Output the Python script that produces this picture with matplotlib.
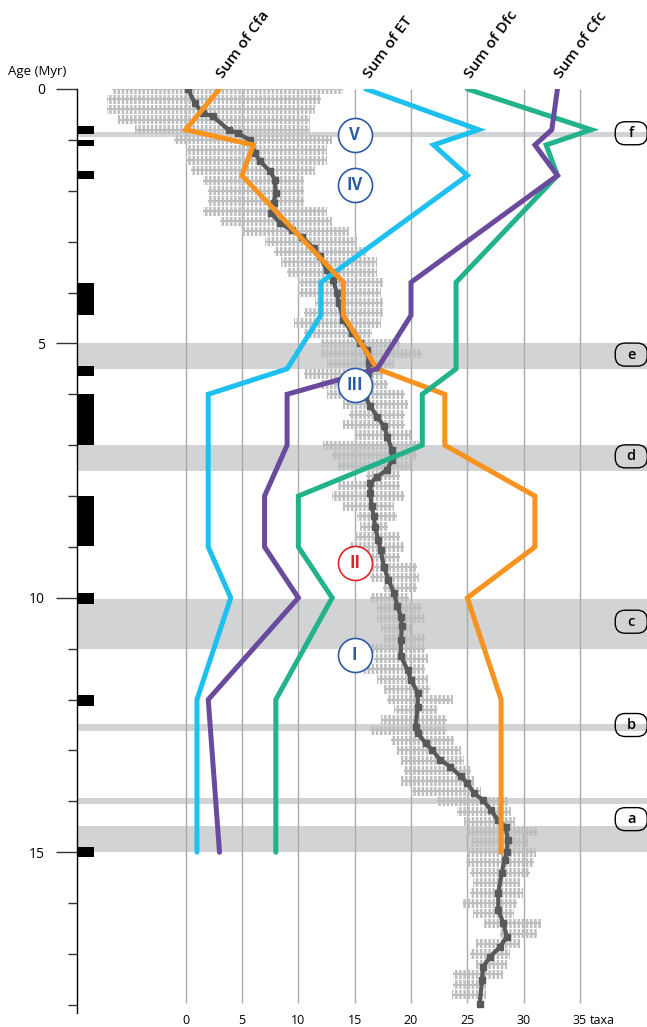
import matplotlib
matplotlib.use('Agg')
import matplotlib.pyplot as plt
from matplotlib.patches import FancyBboxPatch
from matplotlib.transforms import IdentityTransform

plt.rcParams['font.family'] = ['Open Sans', 'DejaVu Sans']
plt.rcParams['hatch.linewidth'] = 1.8

# ---------------- data ----------------
node_ages = [0, 0.8, 1.1, 1.7, 3.8, 4.45, 5.5, 6, 7, 8, 9, 10, 12, 15]
sum_cfa = [3, 0, 6, 5, 14, 14, 17, 23, 23, 31, 31, 25, 28, 28]
sum_et = [16, 26, 22, 25, 12, 12, 9, 2, 2, 2, 2, 4, 1, 1]
sum_dfc = [25, 36, 32, 33, 24, 24, 24, 21, 21, 10, 10, 13, 8, 8]
sum_cfc = [33, 32.5, 31, 33, 20, 20, 17, 9, 9, 7, 7, 10, 2, 3]
series_names = ['Sum of ET', 'Sum of Cfa', 'Sum of Dfc', 'Sum of Cfc']
series_colors = ['#1DC0EE', '#F7931E', '#22B28C', '#6A4A9C']

mean_ages = [0, 0.28, 0.47, 0.54, 0.8, 0.87, 1.0, 1.26, 1.42, 1.62, 1.78, 2.05, 2.24,
             2.44, 2.64, 2.77, 2.9, 3.13, 3.29, 3.55, 3.75, 4.0, 4.21, 4.54, 4.8,
             4.99, 5.12, 5.39, 5.58, 5.8, 6.04, 6.24, 6.44, 6.63, 6.83, 7.09, 7.29,
             7.48, 7.62, 7.75, 7.94, 8.2, 8.4, 8.6, 8.86, 9.06, 9.39, 9.65, 9.91,
             10.17, 10.37, 10.56, 10.83, 11.15, 11.42, 11.61, 11.87, 12.14, 12.53,
             12.66, 12.86, 12.99, 13.19, 13.32, 13.51, 13.64, 13.84, 13.97, 14.17,
             14.37, 14.5, 14.76, 15.0, 15.15, 15.41, 15.8, 16.13, 16.4, 16.66,
             16.86, 17.06, 17.25, 17.52, 17.98]
mean_taxa = [0.2, 0.8, 1.5, 2.4, 3.8, 4.6, 5.7, 6.15, 6.6, 7.5, 7.9, 8.0, 7.8,
             7.6, 8.4, 9.4, 10.3, 11.35, 11.9, 12.5, 13.1, 13.4, 13.6, 14.0, 14.8,
             15.5, 16.1, 16.25, 16.2, 15.8, 15.95, 16.4, 17.0, 17.6, 17.9, 18.3, 18.3,
             17.9, 17.0, 16.4, 16.4, 16.5, 16.7, 16.8, 17.1, 17.3, 17.6, 18.0, 18.5,
             18.8, 19.1, 19.2, 19.1, 19.1, 19.7, 20.0, 20.6, 20.6, 20.4,
             20.6, 21.3, 21.9, 22.6, 23.5, 24.4, 25.0, 25.6, 26.35, 27.1,
             27.7, 28.4, 28.6, 28.5, 28.3, 28.05, 27.75, 27.75, 28.2, 28.5,
             27.9, 27.0, 26.4, 26.3, 26.1]

cloud_ages = [0.0, 0.2, 0.4, 0.6, 0.8, 1.0, 1.2, 1.4, 1.6, 1.8, 2.0, 2.2, 2.4, 2.6,
              2.8, 3.0, 3.2, 3.4, 3.6, 3.8, 4.0, 4.2, 4.4, 4.6, 4.8, 5.0, 5.2, 5.4,
              5.6, 5.8, 6.0, 6.2, 6.4, 6.6, 6.8, 7.0, 7.2, 7.4, 7.6, 7.8, 8.0, 8.2,
              8.4, 8.6, 8.8, 9.0, 9.2, 9.4, 9.6, 9.8, 10.0, 10.2, 10.4, 10.6, 10.8,
              11.0, 11.2, 11.4, 11.6, 11.8, 12.0, 12.2, 12.4, 12.6, 12.8, 13.0, 13.2,
              13.4, 13.6, 13.8, 14.0, 14.2, 14.4, 14.6, 14.8, 15.0, 15.2, 15.4, 15.6,
              15.8, 16.0, 16.2, 16.4, 16.6, 16.8, 17.0, 17.2, 17.4, 17.6, 17.8]
cloud_left = [-6.5, -7, -7, -6, -4.5, -1, 0, 0, 0.5, 1.5, 2, 2, 1.5, 3,
              5, 7, 7.8, 8.5, 9, 10, 10, 11.5, 10.5, 9.6, 10.5, 12, 12, 12.5,
              10.5, 12, 12.5, 14, 14.5, 14, 15, 12.2, 13, 13.5, 16, 13.5, 13, 14,
              15.2, 15.5, 15, 14.6, 16, 16.5, 16.4, 17.5, 16.4, 17, 17, 17.3, 17.6,
              16.4, 16.7, 15.8, 17, 17.6, 17.9, 18.5, 17.3, 16.4, 18.2, 18.8, 19.1,
              19.4, 19.1, 20, 22.3, 24.1, 24.7, 25, 25.3, 25, 24.9, 25.2, 25.5,
              25.2, 24.6, 25.5, 26.5, 27.9, 25.8, 25.2, 25.8, 23.7, 23.7, 23.6]
cloud_right = [14, 12, 11.5, 11, 11, 13, 12.5, 12.5, 11.5, 10.5, 10.5, 10.5, 12.5, 13,
               14.5, 15.2, 16, 17, 17, 17.5, 17.3, 17.5, 17.5, 17.3, 16.5, 19, 21, 18.5,
               17.5, 18, 19.5, 19.7, 19.5, 19.5, 20, 20.7, 20.5, 20, 19, 19, 19.5, 18.5,
               18.8, 18, 19, 19.4, 19, 20.5, 20.7, 20.5, 19.8, 21, 21.2, 20, 21.2,
               21.2, 21.5, 21.2, 21.5, 21.7, 23.7, 22.3, 23.2, 23.2, 23.8, 24.4, 24.7,
               25.3, 25.6, 26.2, 28.6, 28.9, 29.2, 31.3, 30.4, 31.1, 30.9, 30.6, 29.7,
               29.9, 29.4, 29.1, 31.5, 31.2, 29.7, 28.8, 28.5, 28.2, 26.7, 26.7]

chron_top = [0.735, 0.997, 1.62, 3.81, 5.44, 5.99, 8.0, 9.9, 11.91, 14.89]
chron_base = [0.879, 1.128, 1.76, 4.45, 5.65, 6.99, 8.99, 10.12, 12.12, 15.1]

band_top = [0.85, 5.0, 7.0, 10.03, 12.48, 13.93, 14.48]
band_base = [0.95, 5.5, 7.5, 11.0, 12.61, 14.06, 15.0]
event_letters = ['f', 'e', 'd', 'c', 'b', 'a']
event_ages = [0.87, 5.22, 7.22, 10.47, 12.5, 14.35]

zone_labels = ['V', 'IV', 'III', 'II', 'I']
zone_ages = [0.9, 1.88, 5.82, 9.32, 11.12]
zone_colors = ['#2B5BA6', '#2B5BA6', '#2B5BA6', '#E2232A', '#2B5BA6']

taxa_ticks = [0, 5, 10, 15, 20, 25, 30, 35]
taxa_labels = ['0', '5', '10', '15', '20', '25', '30', '35']
age_major = [0, 5, 10, 15]
age_minor = list(range(0, 19))

# ---------------- figure ----------------
W, H = 647, 1027
fig = plt.figure(figsize=(W / 100, H / 100), dpi=100)
ax = fig.add_axes([77 / W, 1 - 1013 / H, 570 / W, 924 / H])
ax.set_xlim(-9.65, 40.95)
ax.set_ylim(18.16, 0)

for s in ['top', 'right', 'bottom']:
    ax.spines[s].set_visible(False)
ax.spines['left'].set_color('black')
ax.spines['left'].set_linewidth(1.0)
ax.set_xticks([])
ax.set_yticks(age_major)
ax.set_yticklabels([str(a) for a in age_major])
ax.set_yticks(age_minor, minor=True)
ax.tick_params(axis='y', which='major', length=15, width=1.0, color='#333333',
               pad=8, labelsize=10)
ax.tick_params(axis='y', which='minor', length=6.5, width=1.0, color='#333333')

# bands
band_color = '#D1D3D4'
for t, b in zip(band_top, band_base):
    ax.axhspan(t, b, color=band_color, lw=0, zorder=0)

# gridlines
ax.vlines(taxa_ticks, 0, 17.96, color='#ABABAB', lw=1.0, zorder=1)

# cloud of samples
cloud_color = '#BDBEC0'
widths = [r - l for l, r in zip(cloud_left, cloud_right)]
ax.barh(cloud_ages, widths, left=cloud_left, height=0.18, color='none',
        edgecolor=cloud_color, hatch='||||', linewidth=0, zorder=2)
ax.hlines(cloud_ages, cloud_left, cloud_right, color=cloud_color, lw=1.5, zorder=2)

# mean staircase line
ax.plot(mean_taxa, mean_ages, color='#58595B', lw=3.0, marker='s', ms=5,
        mec='#58595B', mfc='#58595B', zorder=3)

# climate series
for name, vals, col in zip(series_names, [sum_et, sum_cfa, sum_dfc, sum_cfc], series_colors):
    ax.plot(vals, node_ages, color=col, lw=3.6, solid_capstyle='round',
            solid_joinstyle='miter', zorder=4)
    ax.text(vals[0] + 0.35, -0.2, name, rotation=54, rotation_mode='anchor',
            ha='left', va='baseline', fontsize=11, fontweight='semibold',
            color='black', clip_on=False)

# polarity chrons
for t, b in zip(chron_top, chron_base):
    ax.barh((t + b) / 2, 1.51, left=-9.65, height=b - t, color='black', lw=0,
            zorder=5, clip_on=False)

# zone circles
for lab, a, col in zip(zone_labels, zone_ages, zone_colors):
    ax.plot(15, a, 'o', ms=24.5, mfc='white', mec=col, mew=1.2, zorder=6)
    ax.text(15, a, lab, ha='center', va='center', color=col, fontsize=12,
            fontweight='bold', zorder=7)

# event labels (rounded boxes)
fig.canvas.draw()
for lab, a in zip(event_letters, event_ages):
    cx, cy = ax.transData.transform((39.55, a))
    box = FancyBboxPatch((cx - 16, cy - 11.5), 32, 23,
                         boxstyle='round,pad=0,rounding_size=10',
                         transform=IdentityTransform(), fc='none', ec='black',
                         lw=1.0, zorder=8)
    fig.add_artist(box)
    ax.text(39.55, a, lab, ha='center', va='center', fontsize=10.5,
            fontweight='semibold', clip_on=False, zorder=9)

# x labels
for t, lab in zip(taxa_ticks, taxa_labels):
    ax.text(t, 18.3, lab, ha='center', va='center', fontsize=9, clip_on=False)
ax.text(35.9, 18.3, 'taxa', ha='left', va='center', fontsize=9, clip_on=False)

fig.text(37 / W, 1 - 72 / H, 'Age (Myr)', ha='center', va='center', fontsize=9.5)

fig.savefig('out.png', dpi=100)
